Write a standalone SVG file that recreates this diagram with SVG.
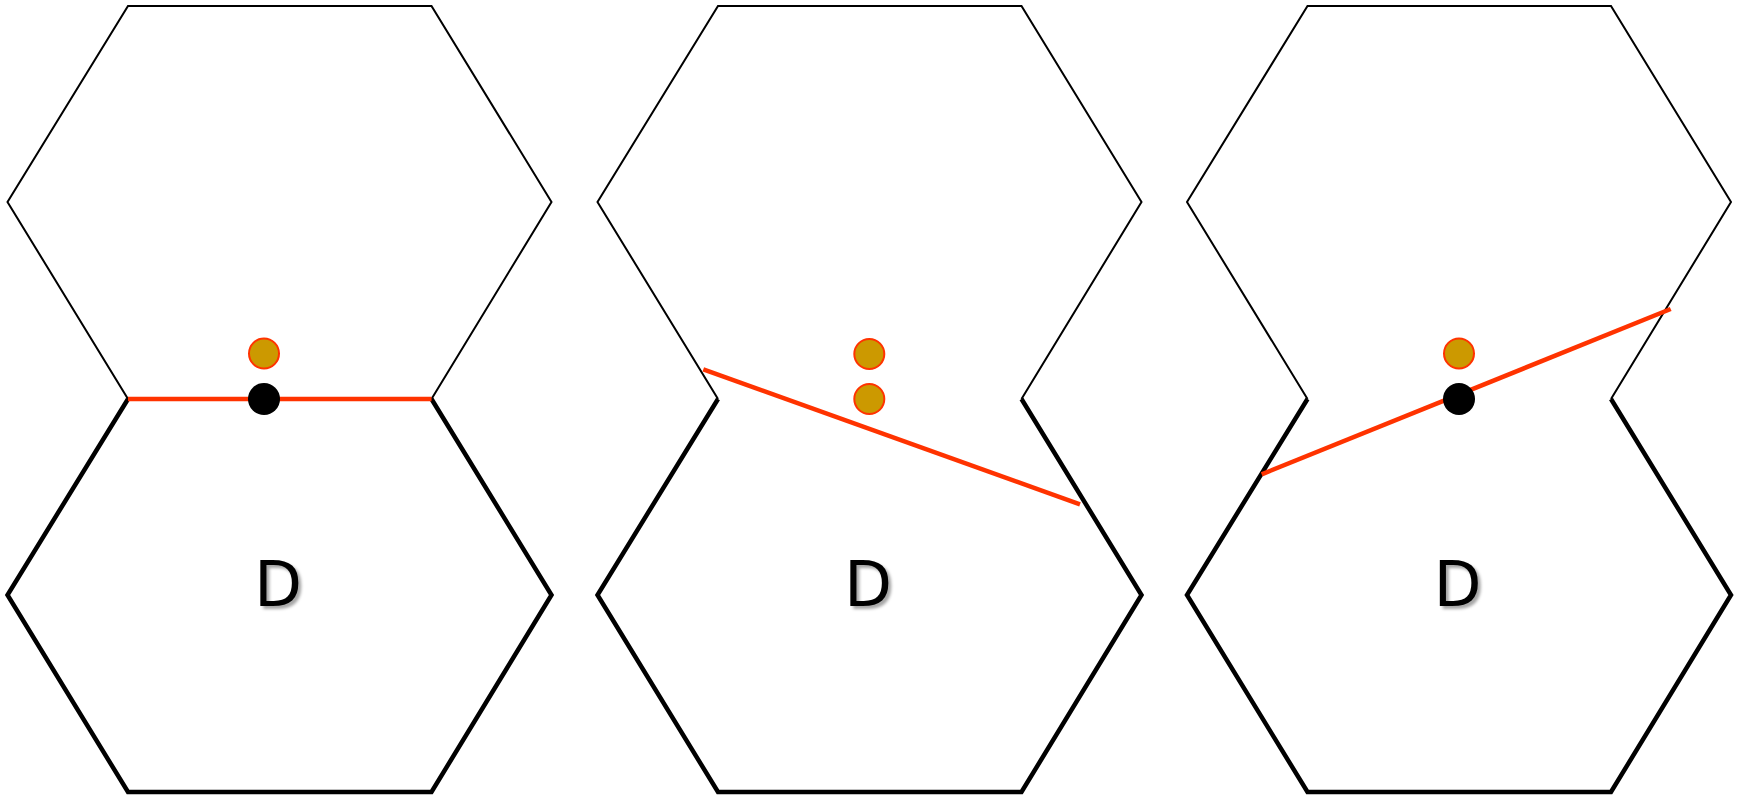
<svg xmlns="http://www.w3.org/2000/svg" width="1742" height="797" viewBox="0 0 1742 797">
  <style>
    .thin { fill: none; stroke: #000; stroke-width: 2; stroke-linejoin: miter; }
    .bold { fill: none; stroke: #000; stroke-width: 4.5; stroke-linejoin: miter; }
    .cut { fill: none; stroke: #FF3300; stroke-width: 4.5; stroke-linecap: butt; }
    .pt { fill: #CC9900; stroke: #FF3300; stroke-width: 2; }
    .dot { fill: #000; }
    .lbl { font-family: "DejaVu Sans", "Liberation Sans", sans-serif; font-size: 62px; fill: #000; text-anchor: middle; }
  </style>
  <defs>
    <filter id="shadow" x="-30%" y="-30%" width="160%" height="160%">
      <feGaussianBlur in="SourceAlpha" stdDeviation="1.6" result="b"/>
      <feOffset in="b" dx="2.5" dy="2.5" result="o"/>
      <feFlood flood-color="#000" flood-opacity="0.35"/>
      <feComposite in2="o" operator="in" result="s"/>
      <feMerge><feMergeNode in="s"/><feMergeNode in="SourceGraphic"/></feMerge>
    </filter>
    <polyline id="upper" class="thin" points="128,399 7.5,202 128,6 431.5,6 551.5,202 431.5,399"/>
    <polyline id="lower" class="bold" points="431.5,399 551.5,595 431.5,792 128,792 7.5,595 128,399"/>
  </defs>

  <g id="panel1">
    <g id="hex1-top"><use href="#upper"/></g>
    <g id="hex1-D"><use href="#lower"/><text class="lbl" x="278" y="606" filter="url(#shadow)">D</text></g>
  </g>
  <g id="panel2" transform="translate(590,0)">
    <g id="hex2-top"><use href="#upper"/></g>
    <g id="hex2-D"><use href="#lower"/><text class="lbl" x="278" y="606" filter="url(#shadow)">D</text></g>
  </g>
  <g id="panel3" transform="translate(1179.5,0)">
    <g id="hex3-top"><use href="#upper"/></g>
    <g id="hex3-D"><use href="#lower"/><text class="lbl" x="278" y="606" filter="url(#shadow)">D</text></g>
  </g>

  <g id="connectors">
    <line class="cut" x1="128" y1="399" x2="431.5" y2="399"/>
    <line class="cut" x1="703.3" y1="369.3" x2="1080" y2="504.3"/>
    <line class="cut" x1="1261.7" y1="474.3" x2="1670.7" y2="309"/>
  </g>

  <g id="points">
    <circle id="p1-orange" class="pt" cx="264" cy="353.5" r="15"/>
    <circle id="p1-black" class="dot" cx="264" cy="399" r="16"/>
    <circle id="p2-orange-a" class="pt" cx="869.3" cy="354" r="15"/>
    <circle id="p2-orange-b" class="pt" cx="869.3" cy="399" r="15"/>
    <circle id="p3-orange" class="pt" cx="1459" cy="353.5" r="15"/>
    <circle id="p3-black" class="dot" cx="1459" cy="399" r="16"/>
  </g>
</svg>
